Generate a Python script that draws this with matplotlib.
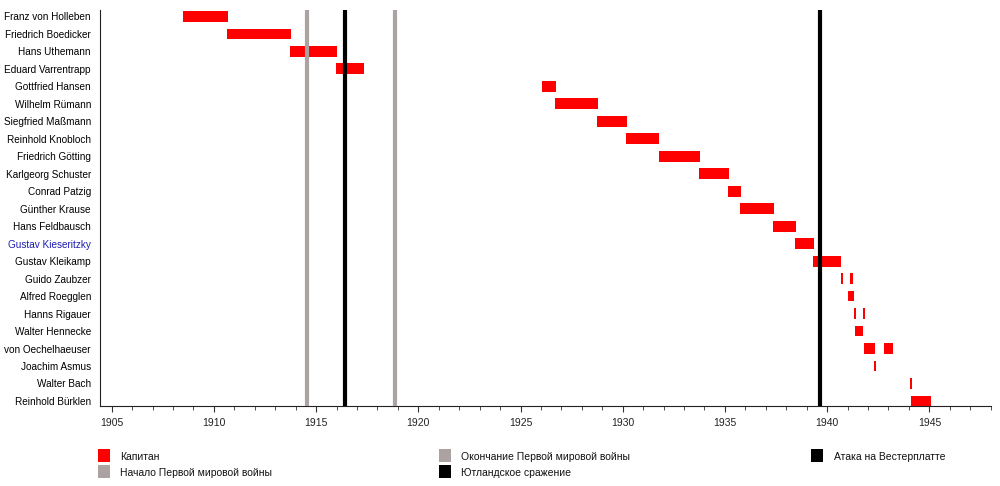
import matplotlib
matplotlib.use("Agg")
import matplotlib.pyplot as plt
from matplotlib.patches import Rectangle

plt.rcParams['font.family'] = ['Liberation Sans', 'DejaVu Sans']

names = ["Franz von Holleben", "Friedrich Boedicker", "Hans Uthemann", "Eduard Varrentrapp",
         "Gottfried Hansen", "Wilhelm Rümann", "Siegfried Maßmann", "Reinhold Knobloch",
         "Friedrich Götting", "Karlgeorg Schuster", "Conrad Patzig", "Günther Krause",
         "Hans Feldbausch", "Gustav Kieseritzky", "Gustav Kleikamp", "Guido Zaubzer",
         "Alfred Roegglen", "Hanns Rigauer", "Walter Hennecke", "von Oechelhaeuser",
         "Joachim Asmus", "Walter Bach", "Reinhold Bürklen"]

# command periods (start year, end year) per captain
periods = [
    [(1908.49, 1910.69)],
    [(1910.66, 1913.77)],
    [(1913.74, 1916.00)],
    [(1915.98, 1917.34)],
    [(1926.05, 1926.74)],
    [(1926.71, 1928.77)],
    [(1928.74, 1930.19)],
    [(1930.17, 1931.76)],
    [(1931.76, 1933.77)],
    [(1933.74, 1935.19)],
    [(1935.16, 1935.78)],
    [(1935.74, 1937.38)],
    [(1937.36, 1938.46)],
    [(1938.43, 1939.34)],
    [(1939.31, 1940.66)],
    [(1940.66, 1940.76), (1941.14, 1941.24)],
    [(1941.04, 1941.29)],
    [(1941.29, 1941.43), (1941.73, 1941.87)],
    [(1941.38, 1941.77)],
    [(1941.82, 1942.36), (1942.80, 1943.24)],
    [(1942.31, 1942.41)],
    [(1944.07, 1944.17)],
    [(1944.12, 1945.10)],
]

events = ["Начало Первой мировой войны", "Ютландское сражение",
          "Окончание Первой мировой войны", "Атака на Вестерплатте"]
event_dates = [1914.57, 1916.41, 1918.86, 1939.67]
event_colors = ["#ada2a2", "#000000", "#ada2a2", "#000000"]

bar_color = "#ff0000"
highlight = "Gustav Kieseritzky"

fig = plt.figure(figsize=(10, 4.86), dpi=100)
ax = fig.add_axes([0.100, 1 - 406 / 486, 0.8907, (406 - 10) / 486])

for i, (nm, per) in enumerate(zip(names, periods)):
    ax.broken_barh([(s, e - s) for s, e in per], (i - 0.31, 0.62),
                   facecolors=bar_color, edgecolors='none', zorder=2)

for d, c in zip(event_dates, event_colors):
    ax.axvline(d, color=c, lw=3, zorder=3)

ax.set_xlim(1904.43, 1948.0)
ax.set_ylim(22.29, -0.37)
ax.set_yticks(range(len(names)))
ax.set_yticklabels(names, fontsize=7.2)
for lbl in ax.get_yticklabels():
    if lbl.get_text() == highlight:
        lbl.set_color("#1d1db0")
ax.tick_params(axis='y', length=0, pad=6.5)
ax.set_xticks(range(1905, 1949, 5))
ax.set_xticks(range(1905, 1949, 1), minor=True)
ax.tick_params(axis='x', which='major', length=4, labelsize=7.5, pad=4.5, color='#333333', labelcolor='#222222')
ax.tick_params(axis='x', which='minor', length=3, color='#333333')
for s in ['top', 'right']:
    ax.spines[s].set_visible(False)
ax.spines['left'].set_color('#222222')
ax.spines['bottom'].set_color('#222222')

# legend
leg_items = [
    ("Капитан", bar_color, 98, 455),
    (events[0], event_colors[0], 98, 471.5),
    (events[2], event_colors[2], 438.5, 455),
    (events[1], event_colors[1], 438.5, 471.5),
    (events[3], event_colors[3], 811, 455),
]
for text, col, px, py in leg_items:
    fig.patches.append(Rectangle((px / 1000, 1 - (py + 6.5) / 486), 12 / 1000, 13 / 486,
                                 transform=fig.transFigure, facecolor=col, edgecolor='none'))
    fig.text((px + 22.5) / 1000, 1 - (py + 1.5) / 486, text, fontsize=7.5, va='center', ha='left',
             color='#111111')

fig.savefig("out.png", dpi=100)
